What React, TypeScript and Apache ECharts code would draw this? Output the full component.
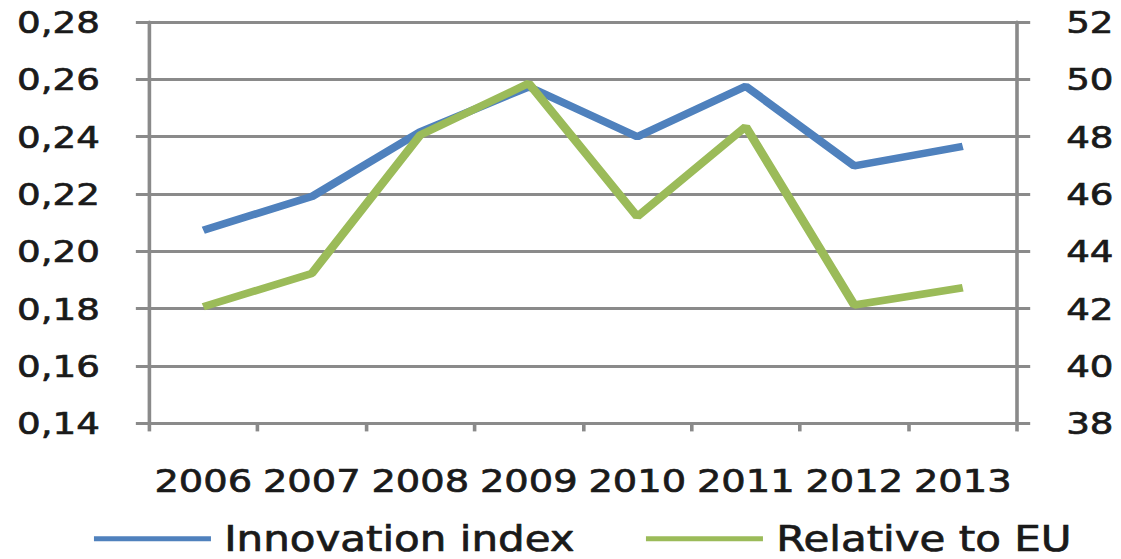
import React, { useEffect, useRef } from "react";
import * as echarts from "echarts";

const years = ["2006", "2007", "2008", "2009", "2010", "2011", "2012", "2013"];
const innovationIndex = [0.2074, 0.2191, 0.2417, 0.2574, 0.240, 0.2576, 0.2298, 0.2366];
const relativeToEU = [42.07, 43.23, 48.06, 49.86, 45.21, 48.35, 42.13, 42.73];
const seriesNames = ["Innovation index", "Relative to EU"];

const SX = 1.2;
const W = 1121 / SX;
const H = 559;

export default function App() {
  const ref = useRef<HTMLDivElement>(null);
  useEffect(() => {
    document.body.style.margin = "0";
    const chart = echarts.init(ref.current!, undefined, { renderer: "svg", width: W, height: H });
    const font = "DejaVu Sans";
    const gray = "#8a8a8a";
    const txt = "#1a1a1a";
    const thick = { textBorderColor: txt, textBorderWidth: 0.7 };
    const legendText = { fontFamily: font, fontSize: 35, color: txt, padding: [0, 0, 0, 6], ...thick };
    chart.setOption({
      animation: false,
      backgroundColor: "#ffffff",
      grid: { left: 124.2, right: W - 847.5, top: 22, bottom: H - 423.4 },
      legend: [
        {
          left: 73.3,
          top: 516,
          data: [seriesNames[0]],
          icon: "rect",
          itemWidth: 97.5,
          itemHeight: 5,
          textStyle: legendText,
        },
        {
          left: 533.3,
          top: 516,
          data: [seriesNames[1]],
          icon: "rect",
          itemWidth: 97.5,
          itemHeight: 5,
          textStyle: legendText,
        },
      ],
      xAxis: {
        type: "category",
        data: years,
        boundaryGap: true,
        axisLine: { lineStyle: { color: gray, width: 3 } },
        axisTick: { show: true, length: 8, lineStyle: { color: gray, width: 3 } },
        axisLabel: { fontFamily: font, fontSize: 32, color: txt, margin: 41, interval: 0, ...thick },
      },
      yAxis: [
        {
          type: "value",
          min: 0.14,
          max: 0.28,
          interval: 0.02,
          position: "left",
          axisLine: { show: true, lineStyle: { color: gray, width: 3 } },
          axisTick: { show: true, length: 11, lineStyle: { color: gray, width: 3 } },
          splitLine: { show: true, lineStyle: { color: gray, width: 3 } },
          axisLabel: {
            fontFamily: font,
            fontSize: 31,
            color: txt,
            margin: 41,
            ...thick,
            formatter: (v: number) => v.toFixed(2).replace(".", ","),
          },
        },
        {
          type: "value",
          min: 38,
          max: 52,
          interval: 2,
          position: "right",
          axisLine: { show: true, lineStyle: { color: gray, width: 3 } },
          axisTick: { show: true, length: 11, lineStyle: { color: gray, width: 3 } },
          splitLine: { show: false },
          axisLabel: { fontFamily: font, fontSize: 31, color: txt, margin: 41, ...thick },
        },
      ],
      series: [
        {
          name: seriesNames[0],
          type: "line",
          yAxisIndex: 0,
          data: innovationIndex,
          symbol: "none",
          lineStyle: { color: "#4f81bd", width: 7.5 },
          itemStyle: { color: "#4f81bd" },
        },
        {
          name: seriesNames[1],
          type: "line",
          yAxisIndex: 1,
          data: relativeToEU,
          symbol: "none",
          lineStyle: { color: "#9bbb59", width: 7.5 },
          itemStyle: { color: "#9bbb59" },
        },
      ],
    });
    return () => chart.dispose();
  }, []);
  return (
    <div
      ref={ref}
      style={{
        position: "fixed",
        left: 0,
        top: 0,
        width: W,
        height: H,
        transform: `scaleX(${SX})`,
        transformOrigin: "0 0",
      }}
    />
  );
}
